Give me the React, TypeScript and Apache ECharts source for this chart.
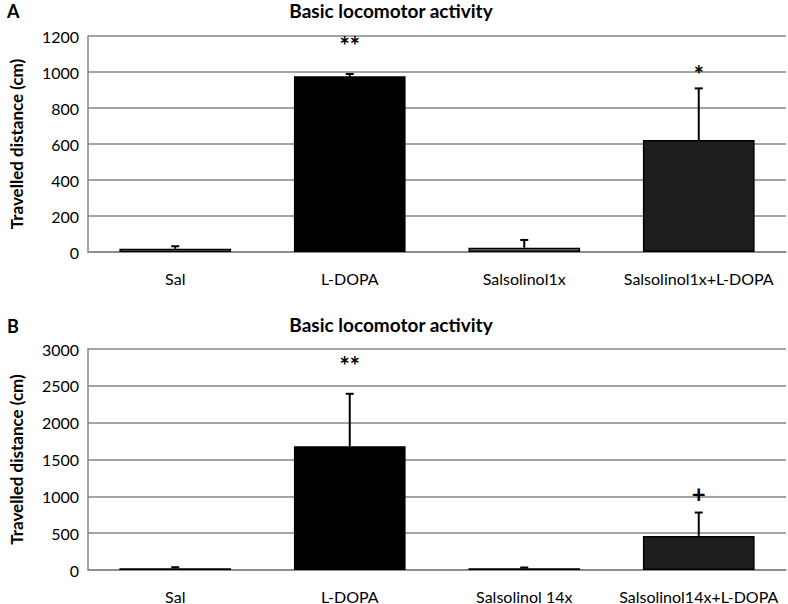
import React, { useEffect, useRef } from "react";
import * as echarts from "echarts";

const categoriesA = ["Sal", "L-DOPA", "Salsolinol1x", "Salsolinol1x+L-DOPA"];
const valuesA = [18, 976, 24, 622];
const errorsA = [14, 13, 43, 287];
const marksA = ["", "**", "", "*"];
const markHeightsA = [0, 1150, 0, 985];

const categoriesB = ["Sal", "L-DOPA", "Salsolinol 14x", "Salsolinol14x+L-DOPA"];
const valuesB = [24, 1680, 24, 463];
const errorsB = [14, 712, 10, 317];
const marksB = ["", "**", "", "+"];
const markHeightsB = [0, 2770, 0, 1040];

const barColors = ["#ffffff", "#000000", "#707070", "#1e1e1e"];
const barColorsB = ["#ffffff", "#000000", "#ffffff", "#1e1e1e"];

const FONT = "Lato";

function errorSeries(xi: number, values: number[], errors: number[]) {
  return {
    type: "custom",
    xAxisIndex: xi,
    yAxisIndex: xi,
    silent: true,
    z: 5,
    data: values.map((v, i) => [i, v, errors[i]]),
    renderItem: (params: any, api: any) => {
      const i = api.value(0);
      const v = api.value(1);
      const e = api.value(2);
      const p0 = api.coord([i, v]);
      const p1 = api.coord([i, v + e]);
      const style = { stroke: "#000", lineWidth: 2 };
      return {
        type: "group",
        children: [
          { type: "line", shape: { x1: p0[0], y1: p0[1], x2: p1[0], y2: p1[1] }, style },
          { type: "line", shape: { x1: p1[0] - 4, y1: p1[1], x2: p1[0] + 4, y2: p1[1] }, style },
        ],
      };
    },
  };
}

function markSeries(xi: number, marks: string[], heights: number[]) {
  return {
    type: "custom",
    xAxisIndex: xi,
    yAxisIndex: xi,
    silent: true,
    z: 6,
    data: marks.map((m, i) => [i, heights[i]]),
    renderItem: (params: any, api: any) => {
      const idx = params.dataIndex;
      const m = marks[idx];
      if (!m) return null;
      const p = api.coord([api.value(0), api.value(1)]);
      return {
        type: "text",
        x: p[0],
        y: p[1],
        style: {
          text: m,
          fill: "#000",
          font: `bold 24px ${FONT}`,
          align: "center",
          verticalAlign: "middle",
        },
      };
    },
  };
}

export default function App() {
  const ref = useRef<HTMLDivElement>(null);
  useEffect(() => {
    if (!ref.current) return;
    const chart = echarts.init(ref.current, null, { renderer: "svg" });
    const axisLabel = { color: "#000", fontFamily: FONT, fontSize: 16 };
    const yAxisCommon = {
      type: "value",
      name: "Travelled distance (cm)",
      nameLocation: "middle",
      nameGap: 63,
      nameTextStyle: { color: "#000", fontFamily: FONT, fontSize: 17, fontWeight: "bold" },
      axisLine: { show: true, lineStyle: { color: "#868686", width: 1.5 } },
      axisTick: { show: false },
      axisLabel: { ...axisLabel, margin: 9, formatter: (v: number) => String(v) },
      splitLine: { lineStyle: { color: "#868686", width: 1.5 } },
    };
    const xAxisCommon = {
      type: "category",
      axisLine: { show: true, lineStyle: { color: "#868686", width: 1.5 } },
      axisTick: { show: false },
      axisLabel: { ...axisLabel, margin: 18, interval: 0 },
    };
    const titleStyle = { fontFamily: FONT, fontSize: 19, fontWeight: "bold", color: "#000" };
    chart.setOption({
      animation: false,
      backgroundColor: "#ffffff",
      title: [
        { text: "Basic locomotor activity", left: 386, top: -4, textAlign: "center", textStyle: titleStyle },
        { text: "Basic locomotor activity", left: 386, top: 310, textAlign: "center", textStyle: titleStyle },
        { text: "A", left: 2, top: -3, textStyle: { ...titleStyle, fontSize: 18 } },
        { text: "B", left: 2, top: 312, textStyle: { ...titleStyle, fontSize: 18 } },
      ],
      grid: [
        { left: 77, right: 2, top: 36, height: 216 },
        { left: 75, right: 2, top: 349, height: 222 },
      ],
      xAxis: [
        { ...xAxisCommon, gridIndex: 0, data: categoriesA },
        { ...xAxisCommon, gridIndex: 1, data: categoriesB },
      ],
      yAxis: [
        { ...yAxisCommon, gridIndex: 0, min: 0, max: 1200, interval: 200 },
        { ...yAxisCommon, gridIndex: 1, min: 0, max: 3000, interval: 500 },
      ],
      series: [
        {
          type: "bar",
          xAxisIndex: 0,
          yAxisIndex: 0,
          barWidth: "64%",
          data: valuesA.map((v, i) => ({
            value: v,
            itemStyle: { color: barColors[i], borderColor: "#000", borderWidth: 1.5 },
          })),
        },
        {
          type: "bar",
          xAxisIndex: 1,
          yAxisIndex: 1,
          barWidth: "64%",
          data: valuesB.map((v, i) => ({
            value: v,
            itemStyle: { color: barColorsB[i], borderColor: "#000", borderWidth: 1.5 },
          })),
        },
        errorSeries(0, valuesA, errorsA),
        errorSeries(1, valuesB, errorsB),
        markSeries(0, marksA, markHeightsA),
        markSeries(1, marksB, markHeightsB),
      ],
    });
    return () => chart.dispose();
  }, []);
  return <div ref={ref} style={{ width: 788, height: 604, position: "absolute", left: 0, top: 0 }} />;
}
